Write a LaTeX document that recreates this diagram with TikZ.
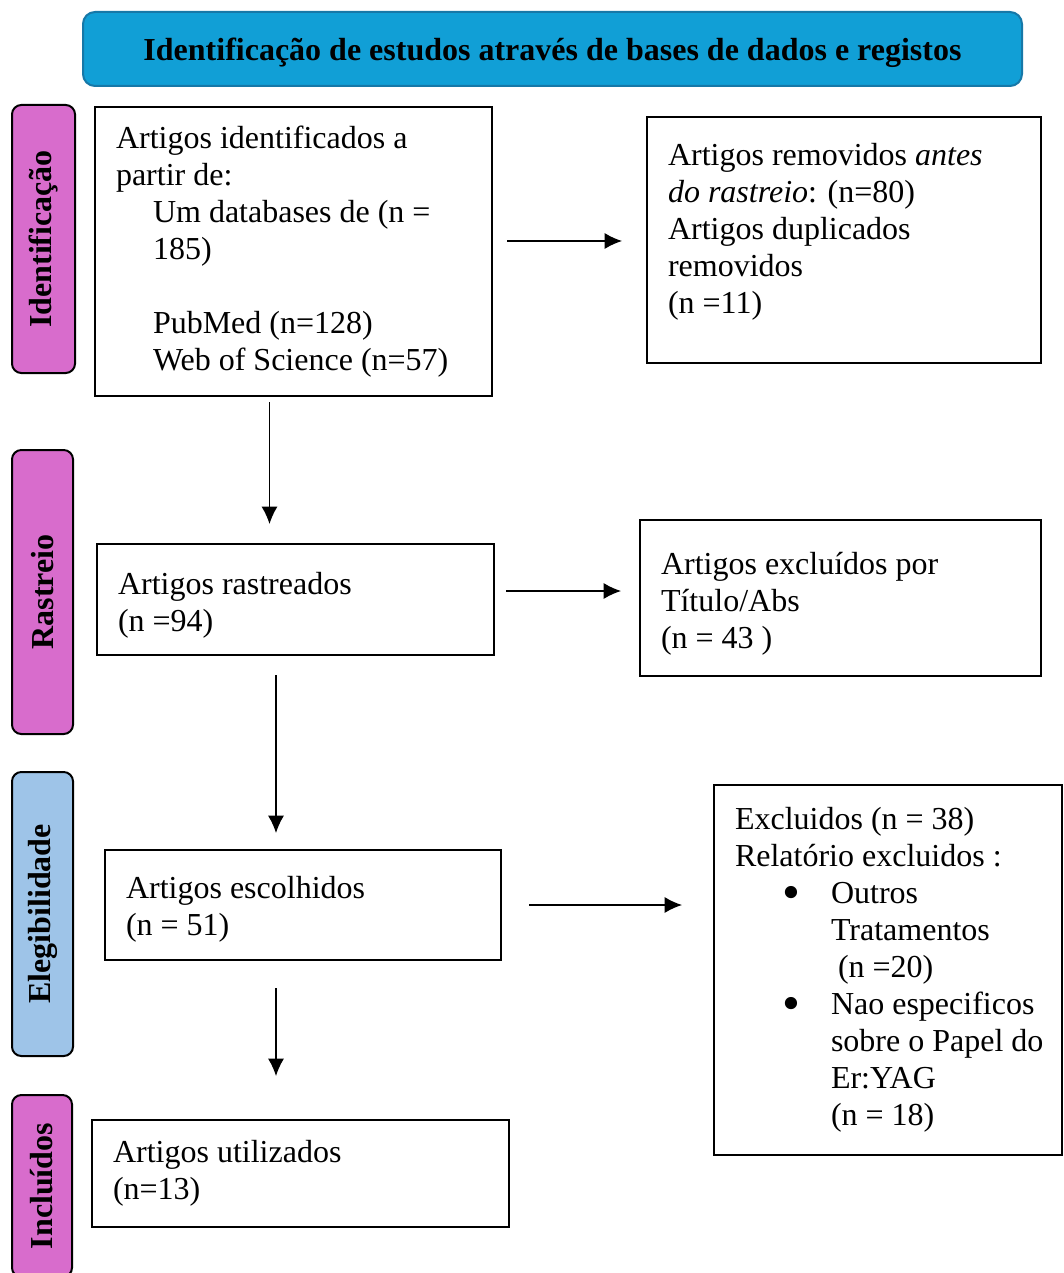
\documentclass[tikz,border=0pt]{standalone}
\usepackage{fontspec}
\setmainfont{Liberation Serif}
\usetikzlibrary{arrows.meta}
\definecolor{hdrblue}{RGB}{17,159,214}
\definecolor{hdrline}{RGB}{22,120,168}
\definecolor{orchidfill}{RGB}{216,108,204}
\definecolor{elegblue}{RGB}{158,196,232}
\newcommand{\bigbul}{\raisebox{-4pt}{\scalebox{1.6}{•}}}
\newcommand{\boxfont}{\fontsize{24pt}{27.75pt}\selectfont}
\begin{document}
\begin{tikzpicture}[x=0.75pt,y=-0.75pt,
  box/.style={draw=black, line width=1.5pt, font={\boxfont}, align=flush left, inner xsep=15.75pt, inner ysep=2pt, anchor=center},
  side/.style={draw=black, line width=1.5pt, rounded corners=7pt, rotate=90, font=\fontsize{24pt}{27.75pt}\selectfont\bfseries, inner sep=0pt, anchor=center},
  arr/.style={-{Latex[length=13pt,width=12pt]}, line width=1pt}
]
\useasboundingbox (0,0) rectangle (1063,1273);
\fill[white] (0,0) rectangle (1063,1273);

% header
\node[draw=hdrline, fill=hdrblue, line width=1.5pt, rounded corners=9pt, minimum width=704.25pt, minimum height=55.5pt, inner sep=0pt, font=\fontsize{24pt}{27.75pt}\selectfont\bfseries] (hdr) at (552.5,49) {\raisebox{-3pt}[\height][\depth]{Identificação de estudos através de bases de dados e registos}};

% side labels
\node[side, fill=orchidfill, minimum width=201pt, minimum height=47.25pt] (s1) at (43.5,239) {Identificação};
\node[side, fill=orchidfill, minimum width=213pt, minimum height=45.75pt] (s2) at (42.5,592) {Rastreio};
\node[side, fill=elegblue, minimum width=213pt, minimum height=45.75pt] (s3) at (42.5,914) {Elegibilidade};
\node[side, fill=orchidfill, minimum width=136.5pt, minimum height=45pt] (s4) at (42,1186) {Incluídos};

% boxes
\node[box, minimum width=297.75pt, minimum height=216.75pt, text width=266.25pt] (b1) at (293.5,251.5)
 {Artigos identificados a\\partir de:\\\hspace*{27.75pt}Um databases de (n =\\\hspace*{27.75pt}185)\\[27.75pt]\hspace*{27.75pt}PubMed (n=128)\\\hspace*{27.75pt}Web of Science (n=57)};

\node[box, minimum width=295.5pt, minimum height=184.5pt, text width=264pt] (b2) at (844,240)
 {Artigos removidos \textit{antes}\\\textit{do rastreio}: (n=80)\\Artigos duplicados\\removidos\\(n =11)\\[-9.75pt]\mbox{}};

\node[box, minimum width=297.75pt, minimum height=83.25pt, text width=266.25pt, text height=25pt] (b3) at (295.5,599.5)
 {Artigos rastreados\\(n =94)};

\node[box, minimum width=300.75pt, minimum height=117pt, text width=269.25pt, text height=25.25pt] (b4) at (840.5,598)
 {Artigos excluídos por\\Título/Abs\\(n = 43 )};

\node[box, minimum width=297pt, minimum height=82.5pt, text width=265.5pt, text height=23.5pt] (b5) at (303,905)
 {Artigos escolhidos\\(n = 51)};

\node[box, minimum width=261pt, minimum height=277.5pt, text width=229.5pt] (b6) at (888,970)
 {\mbox{Excluidos (n = 38)}\\\mbox{Relatório excluidos :}\\
  \mbox{\hspace*{35.25pt}\makebox[36.75pt][l]{\bigbul}Outros}\\
  \mbox{\hspace*{72pt}Tratamentos}\\
  \mbox{\hspace*{77.25pt}(n =20)}\\
  \mbox{\hspace*{35.25pt}\makebox[36.75pt][l]{\bigbul}Nao especificos}\\
  \mbox{\hspace*{72pt}sobre o Papel do}\\
  \mbox{\hspace*{72pt}Er:YAG}\\
  \mbox{\hspace*{72pt}(n = 18)}};

\node[box, minimum width=312.75pt, minimum height=80.25pt, text width=281.25pt] (b7) at (300.5,1173.5)
 {Artigos utilizados\\(n=13)};

% arrows
\coordinate (ya1) at (0,241);
\coordinate (xa2) at (269.5,0);
\coordinate (ya3) at (0,591);
\coordinate (xa4) at (276,0);
\coordinate (ya5) at (0,905);
\draw[arr, shorten <=10.5pt, shorten >=18pt] (b1.east |- ya1) -- (b2.west |- ya1);
\draw[arr, shorten <=3.75pt, shorten >=14.25pt] (xa2 |- b1.south) -- (xa2 |- b3.north);
\draw[arr, shorten <=8.25pt, shorten >=13.5pt] (b3.east |- ya3) -- (b4.west |- ya3);
\draw[arr, shorten <=14.25pt, shorten >=12pt] (xa4 |- b3.south) -- (xa4 |- b5.north);
\draw[arr, shorten <=20.25pt, shorten >=23.25pt] (b5.east |- ya5) -- (b6.west |- ya5);
\draw[arr, shorten <=20.25pt, shorten >=32.25pt] (xa4 |- b5.south) -- (xa4 |- b7.north);
\end{tikzpicture}
\end{document}
